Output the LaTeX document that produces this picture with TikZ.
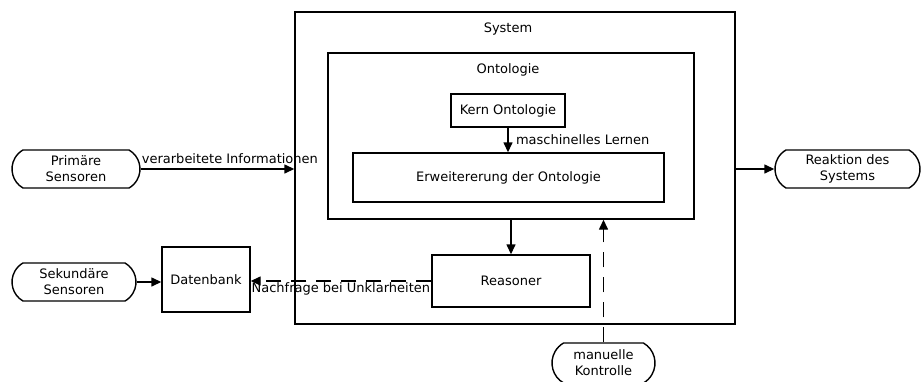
\documentclass[tikz,border=0pt]{standalone}
\usepackage{fontspec}
\setmainfont{DejaVu Sans}
\usepackage{tikz}
\usetikzlibrary{arrows.meta,shapes.misc}

\begin{document}
\begin{tikzpicture}[x=1pt,y=-1pt,font=\fontsize{13}{16}\selectfont,
  box/.style={draw,line width=1.4pt,inner sep=0pt},
  term/.style={draw,line width=1.4pt,rounded rectangle,rounded rectangle arc length=120,inner sep=0pt,align=center},
  flow/.style={line width=1.4pt,-{Triangle[length=10pt,width=9pt]}},
  ask/.style={flow,dash pattern=on 15pt off 10pt}]
\useasboundingbox (0,0) rectangle (921,381);
\node[box,minimum width=440,minimum height=312] (system) at (515,168) {};
\node (systemlabel) at (508,29) {System};
\node[box,minimum width=366,minimum height=166] (onto) at (511,136) {};
\node (ontolabel) at (508,70) {Ontologie};
\node[box,minimum width=114,minimum height=33] (kern) at (508,110.5) {Kern Ontologie};
\node[box,minimum width=311,minimum height=49] (erw) at (508.5,177.5) {Erweitererung der Ontologie};
\node[box,minimum width=158,minimum height=52] (reas) at (511,281) {Reasoner};
\node[box,minimum width=88,minimum height=65] (dat) at (206,279.5) {Datenbank};
\node[term,minimum width=128,minimum height=38] (prim) at (76,169) {Primäre\\Sensoren};
\node[term,minimum width=124,minimum height=38] (sek) at (74,282) {Sekundäre\\Sensoren};
\node[term,minimum width=145,minimum height=38] (reak) at (847.5,169) {Reaktion des\\Systems};
\node[term,minimum width=103,minimum height=40] (man) at (603.5,363) {manuelle\\Kontrolle};
\draw[flow] (prim.east) -- (prim.east -| system.west);
\node[anchor=south west,inner sep=1pt,yshift=4pt] (flowlabel) at (prim.east) {verarbeitete Informationen};
\draw[flow] (system.east |- reak.west) -- (reak.west);
\draw[flow] (kern.south) -- node[right,xshift=4pt] {maschinelles Lernen} (kern.south |- erw.north);
\draw[flow] (onto.south -| reas.north) -- (reas.north);
\draw[flow] (sek.east) -- (sek.east -| dat.west);
\draw[ask] (reas.west) -- (reas.west -| dat.east);
\node[anchor=north east,inner sep=1pt] (asklabel) at (reas.west) {Nachfrage bei Unklarheiten};
\draw[ask] (man.north) -- (man.north |- onto.south);
\end{tikzpicture}
\end{document}
